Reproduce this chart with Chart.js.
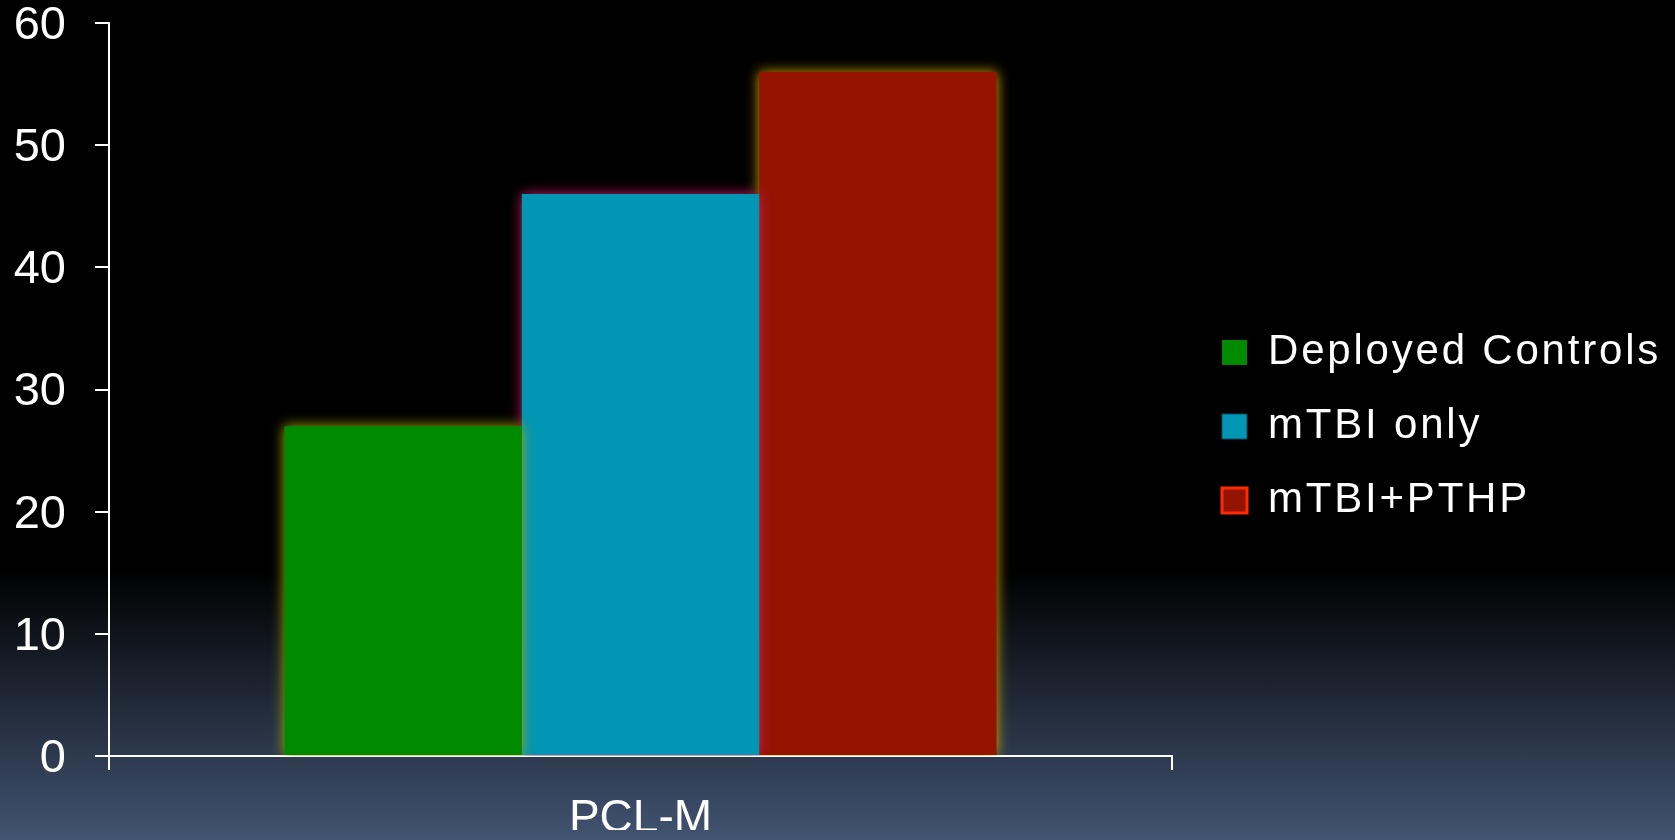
<!DOCTYPE html>
<html>
<head>
<meta charset="utf-8">
<title>PCL-M</title>
<script src="https://cdn.jsdelivr.net/npm/chart.js@4/dist/chart.umd.min.js"></script>
<style>
  html, body { margin: 0; padding: 0; }
  body {
    width: 1675px; height: 840px; overflow: hidden;
    background: linear-gradient(to bottom, #000 0px, #000 570px, rgb(66, 84, 114) 840px);
  }
  canvas { display: block; }
</style>
</head>
<body>
<canvas id="chart" width="1675" height="840"></canvas>
<script>
// Datos
const categories = ['PCL-M'];
const seriesNames = ['Deployed Controls', 'mTBI only', 'mTBI+PTHP'];
const deployedControls = [27];
const mtbiOnly = [46];
const mtbiPthp = [56];

// Estilos
const barColors = ['#008a00', '#0096b4', '#941400'];
const glowColors = ['rgb(160,170,0)', 'rgb(200,30,100)', 'rgb(205,170,0)'];
const legendBorders = ['#008a00', '#05506a', '#ff2a00'];
const legendBorderWidths = [0, 1, 3];
const FONT = '"Liberation Sans", Arial, Helvetica, sans-serif';
const LEGEND_SPACING = '2.8px';
const LEGEND_GAP = 18;

// brillo alrededor de las barras
const glowPlugin = {
    id: 'glow',
    beforeDatasetDraw(chart, args) {
        const ctx = chart.ctx;
        ctx.save();
        ctx.shadowColor = glowColors[args.index];
        ctx.shadowBlur = 12;
    },
    afterDatasetDraw(chart) {
        chart.ctx.restore();
    }
};

// leyenda: texto más ancho y caja hasta el borde derecho
const legendBoxPlugin = {
    id: 'legendBox',
    beforeDraw(chart) {
        const lg = chart.legend;
        lg.left = chart.chartArea.right + LEGEND_GAP;
        lg.right = chart.width;
        lg.width = lg.right - lg.left;
        chart.ctx.letterSpacing = LEGEND_SPACING;
    },
    beforeDatasetsDraw(chart) {
        chart.ctx.letterSpacing = '0px';
    }
};

const series = [deployedControls, mtbiOnly, mtbiPthp];

const chart = new Chart(document.getElementById('chart'), {
    type: 'bar',
    data: {
        labels: categories,
        datasets: series.map((values, i) => ({
            label: seriesNames[i],
            data: values,
            backgroundColor: barColors[i],
            borderWidth: 0,
            categoryPercentage: 0.67,
            barPercentage: 1.0
        }))
    },
    options: {
        responsive: false,
        animation: false,
        devicePixelRatio: 1,
        layout: { padding: { top: 23, right: 203, bottom: 10, left: 0 } },
        plugins: {
            tooltip: { enabled: false },
            legend: {
                position: 'right',
                align: 'center',
                maxWidth: 300,
                labels: {
                    color: '#ffffff',
                    font: { family: FONT, size: 42 },
                    boxWidth: 25,
                    boxHeight: 25,
                    padding: 32,
                    generateLabels(chart) {
                        const items = Chart.defaults.plugins.legend.labels.generateLabels(chart);
                        items.forEach((item, i) => {
                            item.strokeStyle = legendBorders[i];
                            item.lineWidth = legendBorderWidths[i];
                        });
                        return items;
                    }
                }
            }
        },
        scales: {
            x: {
                grid: { drawOnChartArea: false, color: '#ffffff', lineWidth: 2, tickLength: 14 },
                border: { color: '#ffffff', width: 2 },
                ticks: { color: '#ffffff', font: { family: FONT, size: 46, lineHeight: 1 }, padding: 26, z: 1 },
                afterFit(scale) { scale.height = 74; }
            },
            y: {
                min: 0,
                max: 60,
                grid: { drawOnChartArea: false, color: '#ffffff', lineWidth: 2, tickLength: 14 },
                border: { color: '#ffffff', width: 2 },
                ticks: { stepSize: 10, color: '#ffffff', font: { family: FONT, size: 47, lineHeight: 1 }, padding: 29, labelOffset: 3, z: 1 },
                afterFit(scale) {
                    scale.width = 109;
                    scale.paddingTop = 0;
                    scale.paddingBottom = 0;
                }
            }
        }
    },
    plugins: [glowPlugin, legendBoxPlugin]
});
</script>
</body>
</html>
